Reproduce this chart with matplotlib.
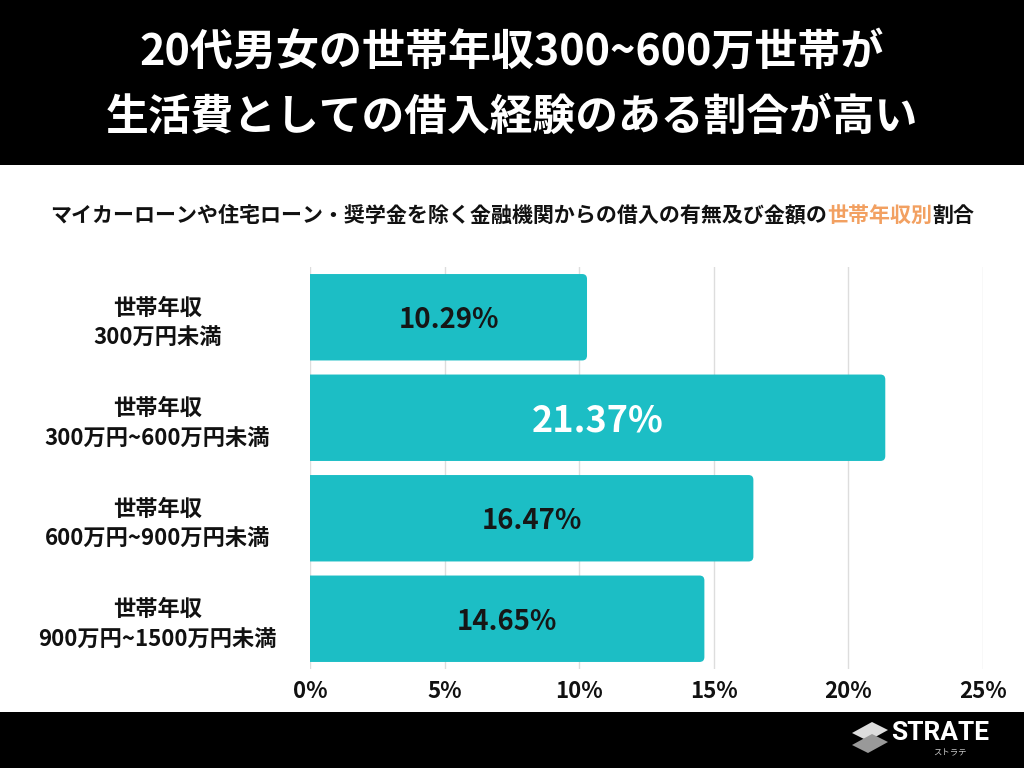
import matplotlib.pyplot as plt
from matplotlib.patches import FancyBboxPatch, Rectangle, Polygon

plt.rcParams['font.family'] = ['Noto Sans CJK JP', 'DejaVu Sans']

# データ
categories = ['世帯年収\n300万円未満', '世帯年収\n300万円~600万円未満',
              '世帯年収\n600万円~900万円未満', '世帯年収\n900万円~1500万円未満']
values = [10.29, 21.37, 16.47, 14.65]
x_ticks = [0, 5, 10, 15, 20, 25]
x_labels = ['0%', '5%', '10%', '15%', '20%', '25%']

BAR_COLOR = '#1CBEC5'

fig = plt.figure(figsize=(10.24, 7.68), dpi=100)
fig.patch.set_facecolor('white')

# ヘッダー・フッターの黒帯
fig.add_artist(Rectangle((0, 1 - 165 / 768), 1, 165 / 768, transform=fig.transFigure,
                         facecolor='black', edgecolor='none', zorder=0))
fig.add_artist(Rectangle((0, 0), 1, 56 / 768, transform=fig.transFigure,
                         facecolor='black', edgecolor='none', zorder=0))

fig.text(0.5, 1 - 52 / 768, '20代男女の世帯年収300~600万世帯が', color='white',
         fontsize=31, fontweight='bold', ha='center', va='center')
fig.text(0.5, 1 - 117 / 768, '生活費としての借入経験のある割合が高い', color='white',
         fontsize=30.8, fontweight='bold', ha='center', va='center')

# サブタイトル(一部オレンジ)
sub_parts = [('マイカーローンや住宅ローン・奨学金を除く金融機関からの借入の有無及び金額の', '#111111'),
             ('世帯年収別', '#F2A061'),
             ('割合', '#111111')]
renderer = fig.canvas.get_renderer()
texts = []
for s, c in sub_parts:
    t = fig.text(0, 1 - 215 / 768, s, color=c, fontsize=15.1, fontweight='bold',
                 ha='left', va='center')
    texts.append(t)
widths = [t.get_window_extent(renderer).width for t in texts]
x0 = (1024 - sum(widths)) / 2
for t, w in zip(texts, widths):
    t.set_x(x0 / 1024)
    x0 += w

ax = fig.add_axes([310 / 1024, 1 - 669 / 768, 673 / 1024, 402 / 768])
ax.set_xlim(0, 25)
ax.set_ylim(3.5, -0.5)

bar_h = 0.86
ax.barh(range(len(values)), values, height=bar_h, color='none')
for i, v in enumerate(values):
    p = FancyBboxPatch((-0.5, i - bar_h / 2), v + 0.5, bar_h,
                       boxstyle='round,pad=0,rounding_size=0.18', mutation_aspect=0.27,
                       facecolor=BAR_COLOR, edgecolor='none', zorder=3)
    ax.add_patch(p)
    top = v == max(values)
    ax.text(v / 2, i + 0.03, f'{v:.2f}%', ha='center', va='center', zorder=4,
            color='white' if top else '#161616', fontweight='bold',
            fontsize=26 if top else 19.8)

ax.set_xticks(x_ticks)
ax.set_xticklabels(x_labels, fontsize=16, fontweight='bold', color='#111111')
ax.set_yticks(range(len(categories)))
ax.set_yticklabels(categories, fontsize=16, fontweight='bold', color='#111111',
                   ha='center', linespacing=1.4)
ax.tick_params(axis='y', length=0, pad=110)
ax.tick_params(axis='x', length=0, pad=8)
ax.grid(axis='x', color='#DDDDDD', linewidth=1, zorder=0)
ax.set_axisbelow(True)
for sp in ax.spines.values():
    sp.set_visible(False)

# ロゴ
logo_pts = [(852 / 1024, 1 - 733 / 768), (872 / 1024, 1 - 722 / 768), (888 / 1024, 1 - 730 / 768),
            (868 / 1024, 1 - 741 / 768)]
fig.add_artist(Polygon(logo_pts, closed=True, transform=fig.transFigure,
                       facecolor='#DDDDDD', edgecolor='none'))
logo_pts2 = [(852 / 1024, 1 - 745 / 768), (872 / 1024, 1 - 734 / 768), (888 / 1024, 1 - 742 / 768),
             (868 / 1024, 1 - 753 / 768)]
fig.add_artist(Polygon(logo_pts2, closed=True, transform=fig.transFigure,
                       facecolor='#999999', edgecolor='none'))
fig.text(940 / 1024, 1 - 733 / 768, 'STRATE', color='white', fontsize=19,
         fontweight='bold', ha='center', va='center', family=['Roboto', 'DejaVu Sans'])
fig.text(950 / 1024, 1 - 753 / 768, 'ストラテ', color='#CCCCCC', fontsize=6,
         ha='center', va='center')

fig.savefig('out.png', dpi=100)
